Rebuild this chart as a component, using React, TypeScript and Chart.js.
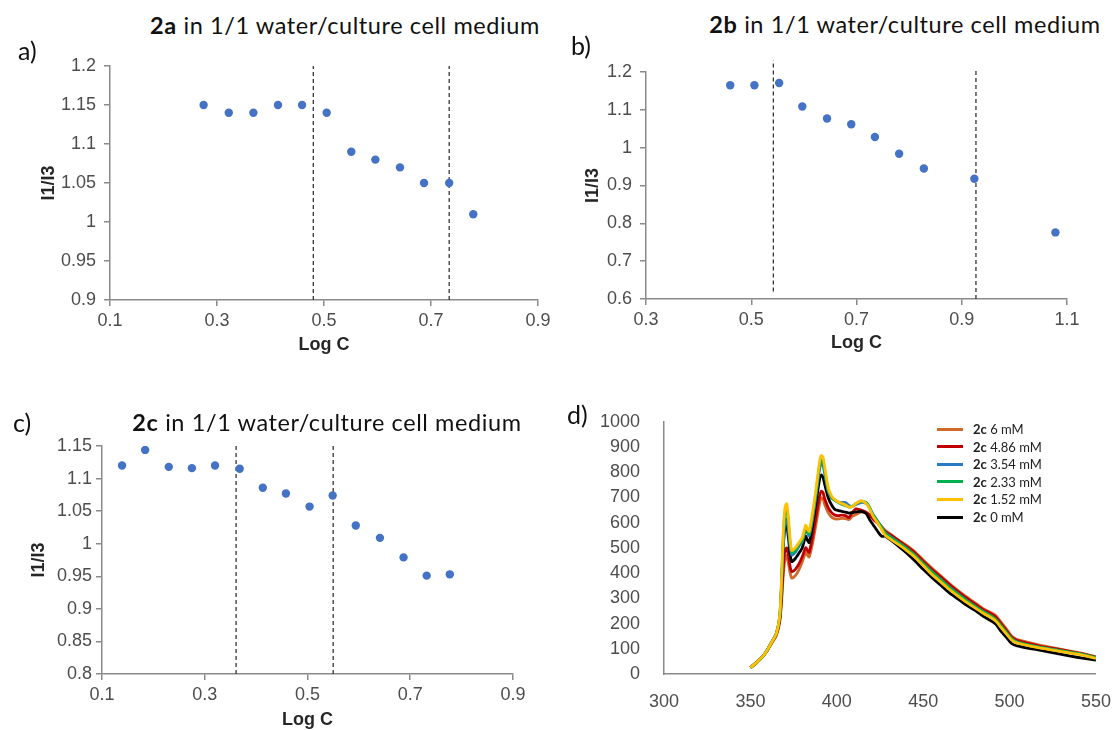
import React, { useEffect, useRef } from "react";
import { Chart, registerables } from "chart.js";

Chart.register(...registerables);

// ---------- a) 2a ----------
const logC2a = [0.275, 0.322, 0.368, 0.414, 0.459, 0.505, 0.551, 0.596, 0.642, 0.687, 0.734, 0.779];
const ratio2a = [1.15, 1.14, 1.14, 1.15, 1.15, 1.14, 1.09, 1.08, 1.07, 1.05, 1.05, 1.01];
const breaks2a = [0.48, 0.734];
const breakSpans2a = [[0.9, 1.2], [0.9, 1.2]];
const xTicks2a = [0.1, 0.3, 0.5, 0.7, 0.9];
const yTicks2a = [0.9, 0.95, 1, 1.05, 1.1, 1.15, 1.2];

// ---------- b) 2b ----------
const logC2b = [0.46, 0.506, 0.553, 0.597, 0.644, 0.69, 0.735, 0.781, 0.828, 0.924, 1.078];
const ratio2b = [1.165, 1.165, 1.171, 1.109, 1.077, 1.062, 1.028, 0.984, 0.945, 0.918, 0.776];
const breaks2b = [0.542, 0.927];
const breakSpans2b = [[0.62, 1.231], [0.6, 1.209]];
const xTicks2b = [0.3, 0.5, 0.7, 0.9, 1.1];
const yTicks2b = [0.6, 0.7, 0.8, 0.9, 1, 1.1, 1.2];

// ---------- c) 2c ----------
const logC2c = [0.139, 0.184, 0.23, 0.275, 0.32, 0.368, 0.413, 0.458, 0.504, 0.549, 0.594, 0.641, 0.687, 0.732, 0.777];
const ratio2c = [1.12, 1.144, 1.118, 1.116, 1.12, 1.115, 1.086, 1.077, 1.057, 1.074, 1.028, 1.009, 0.979, 0.951, 0.953];
const breaks2c = [0.361, 0.55];
const breakSpans2c = [[0.8, 1.154], [0.8, 1.154]];
const xTicks2c = [0.1, 0.3, 0.5, 0.7, 0.9];
const yTicks2c = [0.8, 0.85, 0.9, 0.95, 1, 1.05, 1.1, 1.15];

// ---------- d) emission spectra of 2c ----------
const wavelengths = [
  350, 353, 356, 359, 362, 365, 367, 368, 369, 370, 371, 372, 373, 374, 376, 378, 380, 382, 383, 384,
  386, 388, 390, 391, 392, 393, 395, 397, 399, 401, 403, 405, 407, 409, 411, 414, 417, 419, 421, 424,
  426, 428, 432, 436, 440, 445, 450, 455, 460, 465, 470, 475, 480, 485, 489, 492, 495, 498, 501, 504,
  508, 512, 518, 524, 530, 536, 542, 550,
];
const em6mM = [
  25, 40, 60, 84, 118, 152, 205, 280, 390, 455, 470, 440, 400, 380, 390, 412, 445, 482, 472, 464,
  520, 595, 675, 699, 695, 672, 640, 622, 615, 615, 617, 616, 612, 625, 632, 642, 640, 630, 615, 598,
  585, 570, 550, 530, 512, 486, 452, 420, 390, 360, 332, 306, 282, 258, 244, 232, 206, 180, 152, 138,
  130, 123, 114, 106, 98, 90, 82, 68,
];
const em486mM = [
  25, 42, 62, 86, 122, 158, 215, 300, 420, 490, 500, 470, 425, 405, 415, 435, 465, 501, 490, 482,
  545, 625, 705, 725, 720, 695, 660, 640, 630, 628, 630, 628, 620, 640, 655, 650, 642, 630, 615, 595,
  580, 565, 548, 528, 508, 482, 448, 415, 386, 356, 328, 302, 278, 254, 240, 226, 200, 174, 148, 134,
  126, 119, 110, 103, 96, 88, 80, 67,
];
const em354mM = [
  25, 42, 62, 86, 122, 160, 225, 345, 510, 600, 615, 570, 505, 472, 482, 505, 525, 572, 560, 548,
  615, 710, 812, 834, 828, 795, 725, 698, 688, 682, 680, 680, 668, 665, 672, 680, 676, 658, 632, 603,
  582, 560, 540, 520, 500, 472, 438, 405, 375, 345, 318, 292, 268, 246, 230, 215, 190, 165, 140, 127,
  119, 113, 105, 98, 91, 84, 77, 64,
];
const em233mM = [
  25, 42, 62, 86, 122, 160, 230, 360, 540, 640, 658, 600, 520, 480, 490, 510, 530, 578, 565, 555,
  625, 720, 825, 848, 842, 805, 730, 700, 688, 680, 672, 668, 662, 665, 675, 684, 680, 660, 630, 600,
  580, 558, 538, 520, 500, 472, 438, 405, 375, 345, 318, 292, 268, 246, 231, 216, 192, 166, 142, 128,
  120, 114, 106, 99, 92, 85, 78, 65,
];
const em152mM = [
  25, 42, 62, 86, 122, 160, 235, 370, 560, 660, 675, 620, 530, 490, 500, 520, 540, 590, 575, 565,
  640, 735, 840, 866, 860, 820, 740, 705, 690, 682, 676, 670, 662, 664, 676, 687, 676, 655, 625, 595,
  572, 550, 530, 512, 492, 465, 430, 395, 366, 336, 310, 285, 262, 240, 225, 210, 185, 160, 136, 124,
  117, 111, 103, 96, 89, 82, 75, 62,
];
const em0mM = [
  25, 42, 62, 86, 122, 160, 225, 340, 500, 580, 592, 540, 475, 445, 458, 478, 500, 546, 530, 521,
  590, 680, 770, 789, 782, 752, 700, 670, 652, 648, 645, 642, 638, 640, 643, 645, 636, 612, 592, 562,
  546, 546, 527, 505, 482, 450, 415, 383, 353, 323, 298, 273, 252, 228, 212, 198, 170, 146, 122, 112,
  106, 101, 94, 86, 78, 70, 63, 55,
];
const spectraLabels = ["6 mM", "4.86 mM", "3.54 mM", "2.33 mM", "1.52 mM", "0 mM"];
const spectraColors = ["#D0692A", "#C00000", "#2A7AC6", "#00B050", "#FFC000", "#000000"];
const spectraValues = [em6mM, em486mM, em354mM, em233mM, em152mM, em0mM];
const xTicksD = [300, 350, 400, 450, 500, 550];
const yTicksD = [0, 100, 200, 300, 400, 500, 600, 700, 800, 900, 1000];

// ---------- shared styling ----------
const AXIS = "#8a8a8a";
const TICK_TEXT = "#4d4d4d";
const TICK_FONT = { family: '"Liberation Sans", Arial, sans-serif', size: 18 };
const CALIBRI_LIKE = 'Lato, "Open Sans", sans-serif';
const POINT_BLUE = "#4472C4";

type Box = { left: number; top: number; width: number; height: number };
type Plot = { left: number; top: number; right: number; bottom: number };

function frame(box: Box, plot: Plot) {
  return {
    padding: { left: 0, top: plot.top - box.top, right: box.left + box.width - plot.right, bottom: 0 },
    yWidth: plot.left - box.left,
    xHeight: box.top + box.height - plot.bottom,
  };
}

function fixedTicks(values: number[]) {
  return (scale: any) => {
    scale.ticks = values.map((v) => ({ value: v }));
  };
}

// Axis captions drawn relative to the plot area
function captionPlugin(xTitle: string, yTitle: string, xDrop: number, yShift: number) {
  return {
    id: "captions",
    afterDraw(chart: any) {
      const { ctx, chartArea } = chart;
      ctx.save();
      ctx.fillStyle = "#262626";
      ctx.font = 'bold 18px "Liberation Sans", Arial, sans-serif';
      ctx.textAlign = "center";
      ctx.textBaseline = "middle";
      ctx.fillText(xTitle, (chartArea.left + chartArea.right) / 2, chartArea.bottom + xDrop);
      ctx.translate(chartArea.left - yShift, (chartArea.top + chartArea.bottom) / 2);
      ctx.rotate(-Math.PI / 2);
      ctx.fillText(yTitle, 0, 0);
      ctx.restore();
    },
  };
}

type ScatterSpec = {
  x: number[];
  y: number[];
  breaks: number[];
  spans: number[][];
  xTicks: number[];
  yTicks: number[];
  box: Box;
  plot: Plot;
  yTickLen: number;
  yTickPad: number;
  xDrop: number;
  yShift: number;
};

function scatterConfig(s: ScatterSpec) {
  const f = frame(s.box, s.plot);
  const dashed = s.breaks.map((bx, i) => ({
    type: "scatter",
    data: [
      { x: bx, y: s.spans[i][0] },
      { x: bx, y: s.spans[i][1] },
    ],
    showLine: true,
    borderColor: "#363636",
    borderWidth: 1.3,
    borderDash: [4, 3],
    pointRadius: 0,
    clip: false,
  }));
  return {
    type: "scatter",
    data: {
      datasets: [
        {
          data: s.x.map((x, i) => ({ x, y: s.y[i] })),
          backgroundColor: POINT_BLUE,
          borderWidth: 0,
          pointRadius: 4.2,
        },
        ...dashed,
      ],
    },
    options: {
      responsive: false,
      maintainAspectRatio: false,
      animation: false,
      events: [],
      layout: { padding: f.padding, autoPadding: false },
      plugins: { legend: { display: false }, tooltip: { enabled: false }, title: { display: false } },
      scales: {
        x: {
          type: "linear",
          min: s.xTicks[0],
          max: s.xTicks[s.xTicks.length - 1],
          afterBuildTicks: fixedTicks(s.xTicks),
          afterFit: (sc: any) => {
            sc.height = f.xHeight;
          },
          ticks: { font: TICK_FONT, color: TICK_TEXT, padding: 4, maxRotation: 0, autoSkip: false, callback: (v: number) => String(v) },
          grid: { display: true, drawOnChartArea: false, drawTicks: true, tickLength: 6, color: AXIS, lineWidth: 1.5 },
          border: { display: true, color: AXIS, width: 1.5 },
        },
        y: {
          type: "linear",
          min: s.yTicks[0],
          max: s.yTicks[s.yTicks.length - 1],
          afterBuildTicks: fixedTicks(s.yTicks),
          afterFit: (sc: any) => {
            sc.width = f.yWidth;
          },
          ticks: { font: TICK_FONT, color: TICK_TEXT, padding: s.yTickPad, autoSkip: false, callback: (v: number) => String(v) },
          grid: { display: true, drawOnChartArea: false, drawTicks: true, tickLength: s.yTickLen, color: AXIS, lineWidth: 1.5 },
          border: { display: true, color: AXIS, width: 1.5 },
        },
      },
    },
    plugins: [captionPlugin("Log C", "I1/I3", s.xDrop, s.yShift)],
  };
}

const boxD: Box = { left: 560, top: 395, width: 560, height: 335 };
const plotD: Plot = { left: 664, top: 413, right: 1100, bottom: 674 };

function spectraConfig() {
  const f = frame(boxD, plotD);
  // index 0 is painted last in Chart.js, so list the top-most curve first
  const drawOrder = [4, 3, 2, 5, 1, 0];
  return {
    type: "line",
    data: {
      datasets: drawOrder.map((k) => ({
        label: "2c " + spectraLabels[k],
        data: wavelengths.map((w, i) => ({ x: w, y: spectraValues[k][i] })),
        borderColor: spectraColors[k],
        borderWidth: 2.8,
        pointRadius: 0,
        tension: 0.2,
        fill: false,
      })),
    },
    options: {
      responsive: false,
      maintainAspectRatio: false,
      animation: false,
      events: [],
      layout: { padding: f.padding, autoPadding: false },
      plugins: { legend: { display: false }, tooltip: { enabled: false }, title: { display: false } },
      scales: {
        x: {
          type: "linear",
          min: 300,
          max: 550,
          afterBuildTicks: fixedTicks(xTicksD),
          afterFit: (sc: any) => {
            sc.height = f.xHeight;
          },
          ticks: { font: TICK_FONT, color: TICK_TEXT, padding: 9, maxRotation: 0, autoSkip: false, callback: (v: number) => String(v) },
          grid: { display: false },
          border: { display: true, color: AXIS, width: 1.5 },
        },
        y: {
          type: "linear",
          min: 0,
          max: 1000,
          afterBuildTicks: fixedTicks(yTicksD),
          afterFit: (sc: any) => {
            sc.width = f.yWidth;
          },
          ticks: { font: TICK_FONT, color: TICK_TEXT, padding: 16, autoSkip: false, callback: (v: number) => String(v) },
          grid: { display: false },
          border: { display: true, color: AXIS, width: 1.5 },
        },
      },
    },
  };
}

const specA: ScatterSpec = {
  x: logC2a, y: ratio2a, breaks: breaks2a, spans: breakSpans2a, xTicks: xTicks2a, yTicks: yTicks2a,
  box: { left: 0, top: 40, width: 560, height: 320 },
  plot: { left: 110, top: 66, right: 538, bottom: 300 },
  yTickLen: 6, yTickPad: 8, xDrop: 45, yShift: 61,
};
const specB: ScatterSpec = {
  x: logC2b, y: ratio2b, breaks: breaks2b, spans: breakSpans2b, xTicks: xTicks2b, yTicks: yTicks2b,
  box: { left: 560, top: 40, width: 560, height: 320 },
  plot: { left: 646, top: 72, right: 1067, bottom: 299 },
  yTickLen: 6, yTickPad: 8, xDrop: 44, yShift: 53,
};
const specC: ScatterSpec = {
  x: logC2c, y: ratio2c, breaks: breaks2c, spans: breakSpans2c, xTicks: xTicks2c, yTicks: yTicks2c,
  box: { left: 0, top: 430, width: 560, height: 300 },
  plot: { left: 102, top: 446, right: 513, bottom: 674 },
  yTickLen: 6, yTickPad: 4, xDrop: 46, yShift: 63,
};

function ChartCanvas({ box, build }: { box: Box; build: () => any }) {
  const ref = useRef<HTMLCanvasElement | null>(null);
  useEffect(() => {
    const chart = new Chart(ref.current as HTMLCanvasElement, build());
    return () => chart.destroy();
  }, []);
  return (
    <canvas
      ref={ref}
      width={box.width}
      height={box.height}
      style={{ position: "absolute", left: box.left, top: box.top, width: box.width, height: box.height }}
    />
  );
}

function Title({ id, cx, cy }: { id: string; cx: number; cy: number }) {
  return (
    <div
      style={{
        position: "absolute",
        left: cx,
        top: cy,
        transform: "translate(-50%, -50%)",
        whiteSpace: "nowrap",
        fontFamily: CALIBRI_LIKE,
        fontSize: 23.5,
        letterSpacing: 0.6,
        color: "#111",
        lineHeight: 1,
      }}
    >
      <b>{id}</b> in 1/1 water/culture cell medium
    </div>
  );
}

function PanelLetter({ text, x, y }: { text: string; x: number; y: number }) {
  return (
    <div style={{ position: "absolute", left: x, top: y, fontFamily: CALIBRI_LIKE, fontSize: 25, color: "#111", lineHeight: 1 }}>
      {text}
    </div>
  );
}

const legendRows = [429, 446.5, 464, 481.5, 499, 517];

export default function App() {
  return (
    <div style={{ position: "absolute", left: 0, top: 0, width: 1120, height: 730, background: "#fff", overflow: "hidden" }}>
      <ChartCanvas box={specA.box} build={() => scatterConfig(specA)} />
      <ChartCanvas box={specB.box} build={() => scatterConfig(specB)} />
      <ChartCanvas box={specC.box} build={() => scatterConfig(specC)} />
      <ChartCanvas box={boxD} build={spectraConfig} />

      <Title id="2a" cx={345} cy={26} />
      <Title id="2b" cx={905} cy={25} />
      <Title id="2c" cx={327} cy={423} />

      <PanelLetter text="a)" x={18} y={38} />
      <PanelLetter text="b)" x={571} y={33} />
      <PanelLetter text="c)" x={13} y={410} />
      <PanelLetter text="d)" x={567} y={402} />

      {spectraLabels.map((lab, i) => (
        <div key={lab}>
          <div
            style={{
              position: "absolute",
              left: 937,
              top: legendRows[i] - 1.5,
              width: 26,
              height: 3,
              background: spectraColors[i],
            }}
          />
          <div
            style={{
              position: "absolute",
              left: 973,
              top: legendRows[i],
              transform: "translateY(-50%)",
              fontFamily: CALIBRI_LIKE,
              fontSize: 13,
              color: "#222",
              whiteSpace: "nowrap",
              lineHeight: 1,
            }}
          >
            <b>2c</b> {lab}
          </div>
        </div>
      ))}
    </div>
  );
}
